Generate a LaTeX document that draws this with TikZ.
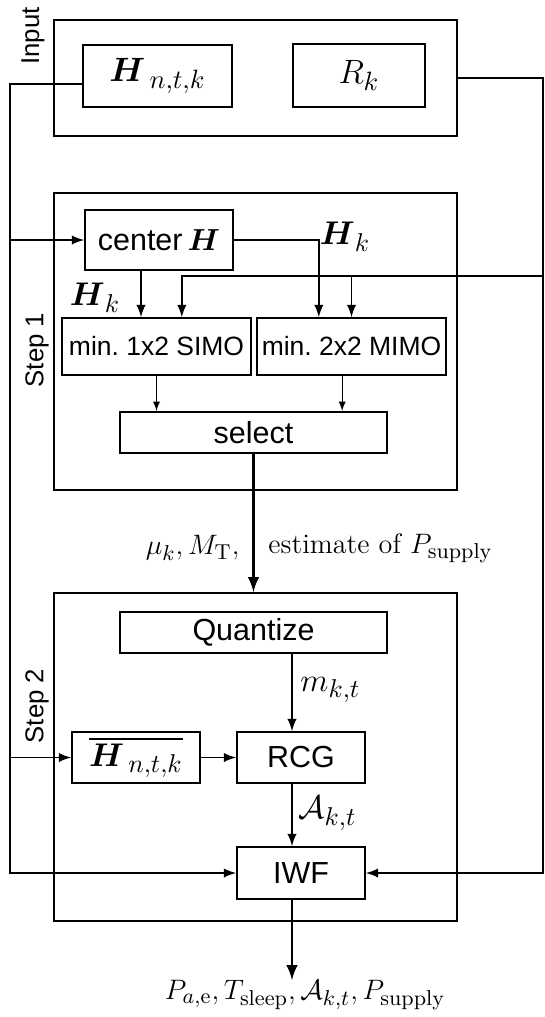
\documentclass[tikz,border=0pt]{standalone}
\usepackage{amsmath,amsfonts}
\usepackage{fix-cm}
\usepackage{fontspec}
\newfontfamily\arialfont{Liberation Sans}
\usepackage{tikz}
\usetikzlibrary{positioning,arrows}
\DeclareMathSizes{14.4}{14.4}{11.3}{8}
\DeclareMathSizes{14}{14}{11}{8}
\DeclareMathSizes{12}{12}{9.2}{7}
\newcommand{\px}{0.015cm}
\tikzstyle{frame}=[rectangle, draw=black, thick, inner sep=0pt]
\tikzstyle{block}=[rectangle, draw=black, thick, inner sep=0pt,
        text centered, font=\arialfont\fontsize{13}{15}\selectfont]
\tikzstyle{smallblock}=[block, font=\arialfont\fontsize{11.3}{13}\selectfont]
\tikzstyle{steplabel}=[rotate=90, inner sep=0pt, font=\arialfont\fontsize{11}{13}\selectfont]
\tikzstyle{mathlabel}=[inner sep=0pt, font=\fontsize{14}{16}\selectfont]
\tikzstyle{flowlabel}=[inner sep=0pt, font=\fontsize{12}{14}\selectfont]
\tikzstyle{myarrow}=[->, >=latex]
\tikzset{boxsize/.style 2 args={minimum width=#1*\px, minimum height=#2*\px}}

\begin{document}
\begin{tikzpicture}[x=\px, y=-\px]
	\useasboundingbox (0,0) rectangle (544,1017);

	% input
	\node (Input) [frame, boxsize={403}{116}] at (255.5,78) {};
	\node (InputLabel) [steplabel, anchor=east] at (33,7) {Input};
	\node (Hntk) [block, boxsize={149}{62}, font=\fontsize{14.4}{16}\selectfont] at (157.5,76)
        {$\boldsymbol{H}_{\mkern3mu n,t,k}$};
	\node (Rk) [block, boxsize={132}{63}, font=\fontsize{14.4}{16}\selectfont] at (359,75.5)
        {$R_k$};

	% step 1
	\node (StepOne) [frame, boxsize={403}{297}] at (255.5,341.5) {};
	\node (StepOneLabel) [steplabel] at (37,350) {Step 1};
	\node (centerH) [block, boxsize={148}{60}] at (159,240) {center\,$\boldsymbol{H}$};
	\node (SIMO) [smallblock, boxsize={189}{57}] at (156.5,346.5) {min.\ 1x2 SIMO};
	\node (MIMO) [smallblock, boxsize={189}{57}] at (351.5,346.5) {min.\ 2x2 MIMO};
	\node (select) [block, boxsize={267}{41}] at (253.5,432.5) {select};
	\node (HkRight) [mathlabel] at (345,237) {$\boldsymbol{H}_k$};
	\node (HkLeft) [mathlabel] at (95,298) {$\boldsymbol{H}_k$};

	% between the steps
	\node (params) [flowlabel, anchor=east] at (240,548) {$\mu_k, M_{\mathrm{T}},$};
	\node (estimate) [flowlabel, anchor=west] at (268,548) {estimate of $P_{\mathrm{supply}}$};

	% step 2
	\node (StepTwo) [frame, boxsize={403}{328}] at (255.5,757) {};
	\node (StepTwoLabel) [steplabel] at (37,706) {Step 2};
	\node (Quantize) [block, boxsize={267}{41}] at (253.5,632.5) {Quantize};
	\node (Hbar) [block, boxsize={128}{51}, font=\fontsize{14}{16}\selectfont] at (136,757.5)
        {$\overline{\boldsymbol{H}_{\mkern3mu n,t,k}}$};
	\node (RCG) [block, boxsize={128}{51}] at (301,757.5) {RCG};
	\node (IWF) [block, boxsize={128}{52}] at (301,873) {IWF};
	\node (mkt) [mathlabel, anchor=west] at (300,690) {$m_{k,t}$};
	\node (Akt) [mathlabel, anchor=west] at (298,813) {$\mathcal{A}_{k,t}$};
	\node (output) [flowlabel] at (305,995)
        {$P_{a,\mathrm{e}}, T_{\mathrm{sleep}}, \mathcal{A}_{k,t}, P_{\mathrm{supply}}$};

	\coordinate (busL) at (10,84);
	\coordinate (busR) at (543,78);
	\coordinate (tap) at (543,276);

\draw[myarrow, thick] ([yshift=-0.12cm]Hntk.west) -- (busL) |- (IWF.west);
\draw[myarrow, thick] (busL |- centerH.west) -- (centerH.west);
\draw[myarrow, thick] (busL |- Hbar.west) -- (Hbar.west);
\draw[myarrow, thick] (Input.east) -- (busR) |- (IWF.east);
\draw[myarrow, thick] (tap) -| ([xshift=0.38cm]SIMO.north);
\draw[myarrow, thick] (tap -| MIMO.north) -- (MIMO.north);
\draw[myarrow, thick] ([xshift=-0.27cm]centerH.south) -- ([xshift=-0.27cm]centerH.south |- SIMO.north);
\draw[myarrow, thick] (centerH.east) -| ([xshift=-0.49cm]MIMO.north);
\draw[myarrow] (SIMO.south) -- (SIMO.south |- select.north);
\draw[myarrow] ([xshift=-0.14cm]MIMO.south) -- ([xshift=-0.14cm]MIMO.south |- select.north);
\draw[myarrow, very thick] (select.south) -- (select.south |- StepTwo.north);
\draw[myarrow, thick] ([xshift=-0.135cm]RCG.north |- Quantize.south) -- ([xshift=-0.135cm]RCG.north);
\draw[myarrow, thick] (Hbar.east) -- (RCG.west);
\draw[myarrow, thick] ([xshift=-0.135cm]RCG.south) -- ([xshift=-0.135cm]IWF.north);
\draw[myarrow, very thick] ([xshift=-0.135cm]IWF.south) -- ([xshift=-0.135cm]IWF.south |- output.north);

\end{tikzpicture}
\end{document}
